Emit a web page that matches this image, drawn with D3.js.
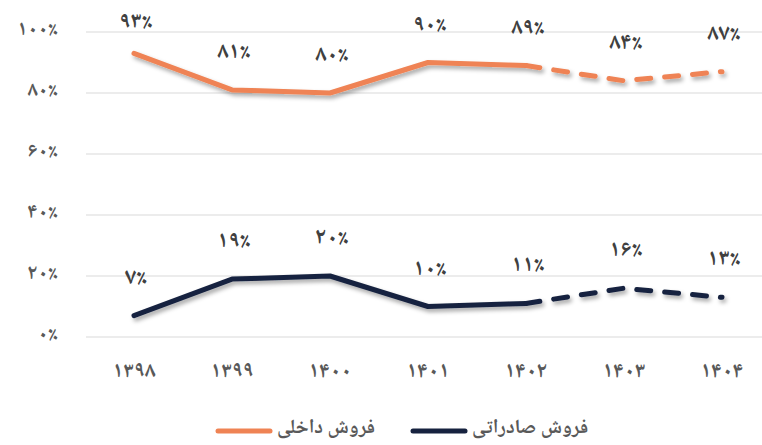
<!DOCTYPE html>
<html>
<head>
<meta charset="utf-8">
<script src="https://cdn.jsdelivr.net/npm/d3@7"></script>
<style>
  body { margin: 0; background: #fff; }
  text { font-family: "Noto Naskh Arabic", "Noto Sans Arabic", "DejaVu Sans", sans-serif; }
</style>
</head>
<body>
<svg id="chart" width="762" height="445"></svg>
<script>
// data
var years = ['۱۳۹۸', '۱۳۹۹', '۱۴۰۰', '۱۴۰۱', '۱۴۰۲', '۱۴۰۳', '۱۴۰۴'];
var domesticSales = [93, 81, 80, 90, 89, 84, 87];
var exportSales = [7, 19, 20, 10, 11, 16, 13];
var yTicks = [0, 20, 40, 60, 80, 100];
var seriesNames = ['فروش داخلی', 'فروش صادراتی'];
var lastActualIndex = 4; // from 1402 on the lines are dashed (forecast)

var faDigits = '۰۱۲۳۴۵۶۷۸۹';
function toFa(n) {
  return String(n).replace(/[0-9]/g, function(c) { return faDigits[+c]; });
}
function pct(n) { return toFa(n) + '٪'; }

var svg = d3.select('#chart');
var width = 762;

var xScale = d3.scaleBand().domain(years).range([85, 771]);
var yScale = d3.scaleLinear().domain([0, 100]).range([337, 32]);

var defs = svg.append('defs');
var shadow = defs.append('filter').attr('id', 'shadow')
  .attr('x', '-10%').attr('y', '-50%').attr('width', '120%').attr('height', '200%');
shadow.append('feDropShadow')
  .attr('dx', 2).attr('dy', 3).attr('stdDeviation', 2)
  .attr('flood-color', '#000').attr('flood-opacity', 0.35);

// gridlines
svg.append('g').selectAll('line').data(yTicks).enter().append('line')
  .attr('x1', 86).attr('x2', width)
  .attr('y1', function(d) { return yScale(d); })
  .attr('y2', function(d) { return yScale(d); })
  .attr('stroke', '#d9d9d9').attr('stroke-width', 1);

// y axis
var yAxis = d3.axisLeft(yScale).tickValues(yTicks).tickSize(0).tickPadding(0)
  .tickFormat(function(d) { return pct(d); });
var yAxisGroup = svg.append('g').attr('transform', 'translate(58,-4)').call(yAxis);
yAxisGroup.select('.domain').remove();
yAxisGroup.selectAll('text')
  .attr('fill', '#595959').attr('font-size', 21).attr('font-weight', 'bold');

// x axis
var xAxis = d3.axisBottom(xScale).tickSize(0).tickPadding(0);
var xAxisGroup = svg.append('g').attr('transform', 'translate(0,361)').call(xAxis);
xAxisGroup.select('.domain').remove();
xAxisGroup.selectAll('text')
  .attr('fill', '#595959').attr('font-size', 22).attr('font-weight', 'bold');

var series = [
  { name: seriesNames[0], values: domesticSales, color: '#ef8354' },
  { name: seriesNames[1], values: exportSales, color: '#16223f' }
];

var line = d3.line()
  .x(function(d) { return xScale(d.year) + xScale.bandwidth() / 2; })
  .y(function(d) { return yScale(d.value); });

series.forEach(function(s) {
  var pts = s.values.map(function(v, i) { return { year: years[i], value: v }; });
  var g = svg.append('g').attr('filter', 'url(#shadow)');
  g.append('path')
    .attr('d', line(pts.slice(0, lastActualIndex + 1)))
    .attr('fill', 'none').attr('stroke', s.color).attr('stroke-width', 5)
    .attr('stroke-linecap', 'round').attr('stroke-linejoin', 'round');
  g.append('path')
    .attr('d', line(pts.slice(lastActualIndex)))
    .attr('fill', 'none').attr('stroke', s.color).attr('stroke-width', 5)
    .attr('stroke-dasharray', '14,14')
    .attr('stroke-linecap', 'round').attr('stroke-linejoin', 'round');

  svg.append('g').selectAll('text').data(pts).enter().append('text')
    .attr('x', function(d) { return xScale(d.year) + xScale.bandwidth() / 2 + 2; })
    .attr('y', function(d) { return Math.max(yScale(d.value) - 32, 28); })
    .attr('text-anchor', 'middle')
    .attr('fill', '#404040').attr('font-size', 23).attr('font-weight', 'bold')
    .text(function(d) { return pct(d.value); });
});

// legend
var legendItems = [
  { name: seriesNames[0], color: series[0].color, x: 215 },
  { name: seriesNames[1], color: series[1].color, x: 410 }
];
var legend = svg.append('g').selectAll('g').data(legendItems).enter().append('g')
  .attr('transform', function(d) { return 'translate(' + d.x + ',431)'; });
legend.append('line')
  .attr('x1', 3).attr('x2', 55).attr('y1', 0).attr('y2', 0)
  .attr('stroke', function(d) { return d.color; })
  .attr('stroke-width', 5).attr('stroke-linecap', 'round');
legend.append('text')
  .attr('x', 62).attr('y', 2)
  .attr('direction', 'rtl').attr('text-anchor', 'end')
  .attr('fill', '#595959').attr('font-size', 20).attr('font-weight', 'bold')
  .text(function(d) { return d.name; });
</script>
</body>
</html>
